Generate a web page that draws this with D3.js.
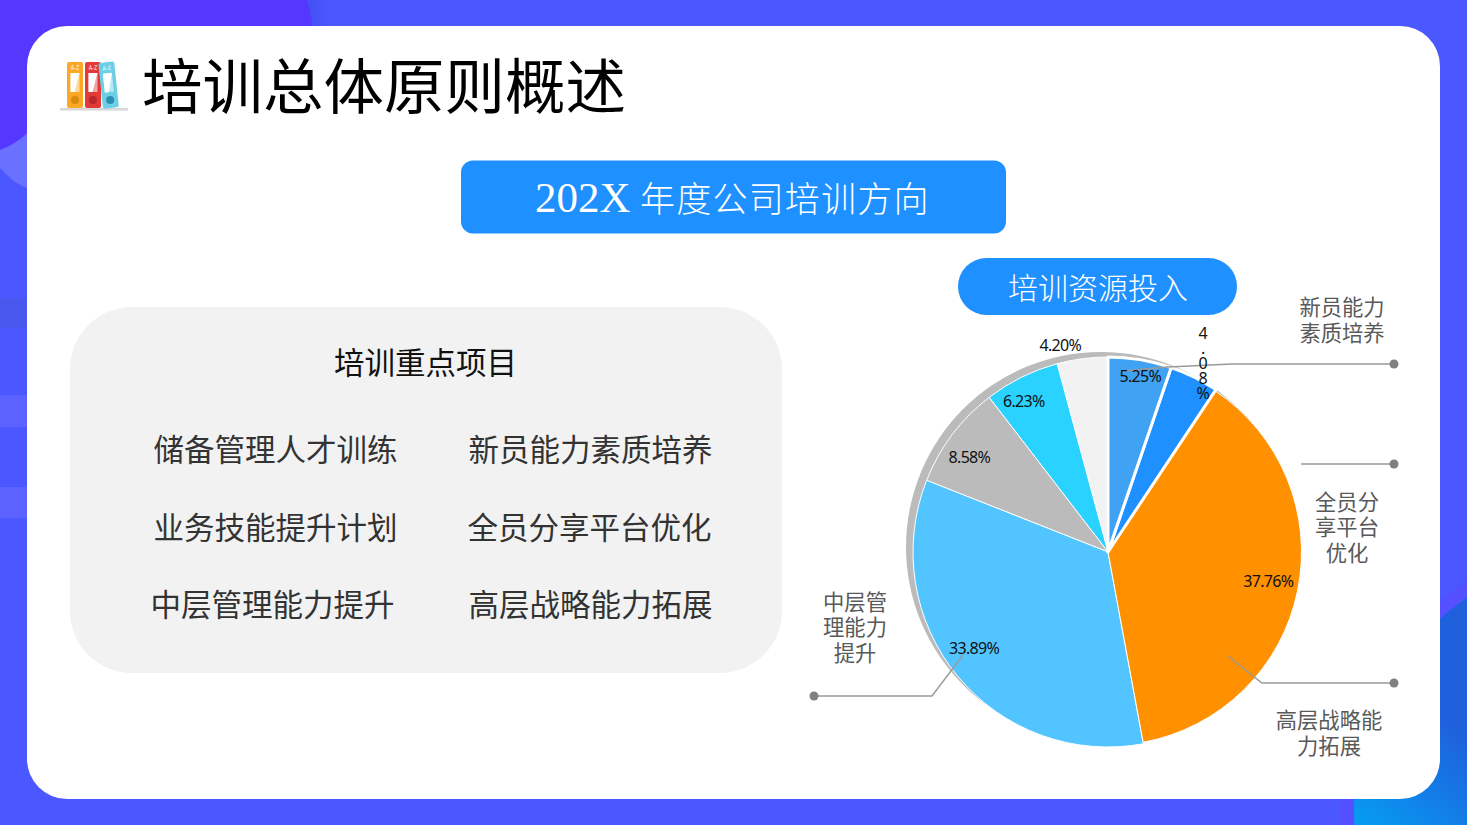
<!DOCTYPE html>
<html><head><meta charset="utf-8">
<script src="https://cdnjs.cloudflare.com/ajax/libs/d3/7.8.5/d3.min.js"></script>
<style>html,body{margin:0;padding:0;background:#4b57ff;overflow:hidden}svg{display:block}text{font-family:"Noto Sans CJK SC","Noto Sans",sans-serif}</style>
</head><body><svg id="c" width="1467" height="825"></svg>
<script>
// ---- data ----
const categories=["新员能力素质培养-a","新员能力素质培养","全员分享平台优化","高层战略能力拓展","中层管理能力提升","业务技能提升计划","储备管理人才训练"];
const values=[5.25,4.08,37.76,33.89,8.58,6.23,4.20];
const valueLabels=["5.25%","4.08%","37.76%","33.89%","8.58%","6.23%","4.20%"];
const sliceColors=["#3fa2f2","#1e90ff","#ff9000","#52c4ff","#bbbbbb","#29d2ff","#f2f2f2"];
const sliceStrokes=[3,3,1,1,1,1,1];
const sliceRadius=[195,195,193.5,195,195,195,195];
const labelRadius=[179,211,163,165,168,173,212];
const labelAngleDeg=[10.4,26.7,100.3,234.3,304.4,330.9,347];
const pageTitle="培训总体原则概述";
const panelTitle="培训重点项目";
const leftItems=["储备管理人才训练","业务技能提升计划","中层管理能力提升"];
const rightItems=["新员能力素质培养","全员分享平台优化","高层战略能力拓展"];
const calloutLines=[["新员能力","素质培养"],["全员分","享平台","优化"],["高层战略能","力拓展"],["中层管","理能力","提升"]];

const svg=d3.select("#c");
const defs=svg.append("defs");
const g1=defs.append("linearGradient").attr("id","br").attr("gradientUnits","userSpaceOnUse").attr("x1",1350).attr("y1",830).attr("x2",1467).attr("y2",690);
g1.append("stop").attr("offset","0.05").attr("stop-color","#069cf2");
g1.append("stop").attr("offset","0.8").attr("stop-color","#1f60dc");
const g2=defs.append("linearGradient").attr("id","strip");
g2.append("stop").attr("offset","0").attr("stop-color","#4350f2").attr("stop-opacity",0);
g2.append("stop").attr("offset","0.35").attr("stop-color","#4350f2");
g2.append("stop").attr("offset","1").attr("stop-color","#4b57ff");

// background
svg.append("rect").attr("width",1467).attr("height",825).attr("fill","#4b57ff");
svg.append("rect").attr("x",298).attr("width",30).attr("height",30).attr("fill","url(#strip)");
svg.append("path").attr("d","M0,140 L40,120 L40,192 L27,188 C15,184 8,176 0,168 Z").attr("fill","#6a70ff");
svg.append("path").attr("d","M0,0 H307 C310,10 312,20 313,30 L60,100 L27,133 C18,142 8,147 0,150 Z").attr("fill","#5538ff");
[[298,328,"#4a58f0"],[395,427,"#5b62ff"],[487,518,"#5b62ff"]].forEach(s=>svg.append("rect").attr("y",s[0]).attr("width",30).attr("height",s[1]-s[0]).attr("fill",s[2]));
svg.append("circle").attr("cx",1610).attr("cy",810).attr("r",270).attr("fill","#5450ff");
svg.append("circle").attr("cx",1610).attr("cy",810).attr("r",256).attr("fill","url(#br)");

// card
svg.append("rect").attr("x",27).attr("y",26).attr("width",1413).attr("height",773).attr("rx",40).attr("fill","#fff");

// icon
const ic=svg.append("g");
ic.append("rect").attr("x",60).attr("y",108).attr("width",68).attr("height",2.6).attr("fill","#d9d9d9");
function binder(x,c,dk,rot){
  const b=ic.append("g").attr("transform",`rotate(${rot} ${x+8} 108)`);
  b.append("rect").attr("x",x).attr("y",62).attr("width",16).attr("height",46).attr("rx",2).attr("fill",c);
  b.append("path").attr("d",`M${x+3.5},73 h9 v19 h-9 z`).attr("fill","#fff").attr("opacity",.55);
  b.append("path").attr("d",`M${x+3.5},73 h9 l-5,19 h-4 z`).attr("fill","#fff");
  b.append("circle").attr("cx",x+8).attr("cy",100).attr("r",4).attr("fill",dk);
  b.append("text").attr("x",x+8).attr("y",70).attr("text-anchor","middle").attr("font-size",5.5).attr("fill","#fff").text("A-Z");
}
binder(67,"#fca825","#d98a10",0);binder(85,"#e53838","#b52a2a",0);binder(103,"#6ccfe5","#2c8db0",-6);

// titles
svg.append("text").attr("x",142).attr("y",82).attr("dominant-baseline","central").attr("font-size",60.5).attr("fill","#000").text(pageTitle);
svg.append("rect").attr("x",461).attr("y",160.5).attr("width",545).attr("height",73).attr("rx",12).attr("fill","#1e90ff");
const bt=svg.append("text").attr("x",535).attr("y",212).attr("fill","#fff");
bt.append("tspan").attr("font-size",43).style("font-family","'Liberation Serif'").text("202X");
bt.append("tspan").attr("dx",9.5).attr("font-size",35).attr("letter-spacing",1.2).attr("font-weight",300).text("年度公司培训方向");
svg.append("rect").attr("x",958).attr("y",258).attr("width",279).attr("height",57).attr("rx",28.5).attr("fill","#1e90ff");
svg.append("text").attr("x",1098).attr("y",286).attr("text-anchor","middle").attr("dominant-baseline","central").attr("font-size",30).attr("font-weight",300).attr("fill","#fff").text("培训资源投入");

// left panel
svg.append("rect").attr("x",70).attr("y",307).attr("width",712).attr("height",366).attr("rx",62).attr("fill","#f2f2f2");
svg.append("text").attr("x",425.5).attr("y",361).attr("text-anchor","middle").attr("dominant-baseline","central").attr("font-size",30.5).attr("fill","#111").text(panelTitle);
const rowY=d3.scalePoint().domain([0,1,2]).range([448,603]);
const colLeft=[275.5,275.5,272.5], colRight=[590.5,589.5,590.5];
leftItems.forEach((t,i)=>svg.append("text").attr("x",colLeft[i]).attr("y",rowY(i)).attr("text-anchor","middle").attr("dominant-baseline","central").attr("font-size",30.5).attr("fill","#333").text(t));
rightItems.forEach((t,i)=>svg.append("text").attr("x",colRight[i]).attr("y",rowY(i)).attr("text-anchor","middle").attr("dominant-baseline","central").attr("font-size",30.5).attr("fill","#333").text(t));

// pie
const cx=1108,cy=552;
svg.append("circle").attr("cx",cx-7).attr("cy",cy-5).attr("r",195).attr("fill","#bbbbbb");
const pie=d3.pie().sort(null).value(d=>d)(values);
const arc=d3.arc().innerRadius(0).outerRadius((d,i)=>sliceRadius[d.index]);
const pg=svg.append("g").attr("transform",`translate(${cx},${cy})`);
const order=[6,5,4,3,2,1,0];
pg.selectAll("path").data(order).join("path")
  .attr("d",i=>arc(pie[i])).attr("fill",i=>sliceColors[i])
  .attr("stroke","#fff").attr("stroke-width",i=>sliceStrokes[i]).attr("stroke-linejoin","round");

// leader lines
const line=d3.line();
const leaders=[
 [[1123,371],[1168,367],[1232,364],[1394,364]],
 [[1301,464],[1394,464]],
 [[1228,656],[1262,683],[1394,683]],
 [[963,655],[932,696],[814,696]]
];
leaders.forEach(p=>{
  svg.append("path").attr("d",line(p)).attr("fill","none").attr("stroke","#999").attr("stroke-width",1.4);
  const e=p[p.length-1];
  svg.append("circle").attr("cx",e[0]).attr("cy",e[1]).attr("r",4.5).attr("fill","#808080");
});

// value labels
valueLabels.forEach((t,i)=>{
  const [x,y]=d3.pointRadial(labelAngleDeg[i]*Math.PI/180,labelRadius[i]);
  const el=svg.append("text").attr("x",cx+x).attr("y",cy+y).attr("text-anchor","middle").attr("font-size",16).attr("letter-spacing",-0.7).attr("fill","#111").style("font-family","'Noto Sans'");
  if(i===1){
    t.split("").forEach((c,k)=>el.append("tspan").attr("x",cx+x).attr("y",cy+y+(k-2)*15).attr("dominant-baseline","central").text(c));
  } else el.attr("dominant-baseline","central").text(t);
});

// callout text
const calloutPos=[[1342,305.5],[1347,500],[1329,718.5],[855,600]];
calloutLines.forEach((ls,i)=>ls.forEach((t,k)=>svg.append("text").attr("x",calloutPos[i][0]).attr("y",calloutPos[i][1]+k*25.5).attr("text-anchor","middle").attr("dominant-baseline","central").attr("font-size",21.3).attr("fill","#595959").text(t)));
</script></body></html>
